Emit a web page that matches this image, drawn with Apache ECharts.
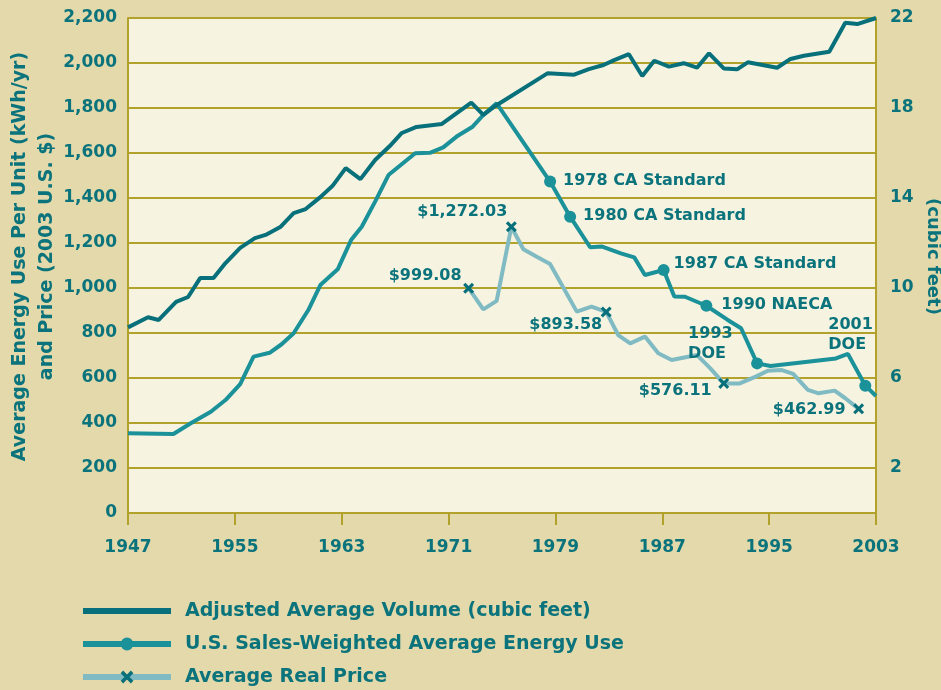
<!DOCTYPE html>
<html lang="en">
<head>
<meta charset="UTF-8">
<title>Refrigerator energy use, volume and price 1947-2003</title>
<script src="https://cdn.jsdelivr.net/npm/echarts@6/dist/echarts.min.js"></script>
<style>
  html, body { margin: 0; padding: 0; background: #e3d9aa; }
  #chart { width: 941px; height: 690px; }
</style>
</head>
<body>
<div id="chart"></div>
<script>
// points don't sit exactly on whole years in the source, so years are read as decimals
var volumeYears = [1947.0, 1948.5, 1949.3, 1950.6, 1951.5, 1952.4, 1953.4, 1954.3, 1955.4, 1956.5,
  1957.3, 1958.4, 1959.4, 1960.3, 1961.4, 1962.3, 1963.3, 1964.4, 1965.5, 1966.6,
  1967.5, 1968.6, 1970.5, 1972.7, 1973.6, 1974.5, 1978.4, 1980.4, 1981.5, 1982.6,
  1983.4, 1984.5, 1985.5, 1986.4, 1987.5, 1988.6, 1989.6, 1990.5, 1991.6, 1992.6,
  1993.4, 1995.6, 1996.6, 1997.6, 1999.5, 2000.7, 2001.6, 2003.0];
var volumeCubicFeet = [8.25, 8.70, 8.58, 9.38, 9.60, 10.44, 10.44, 11.11, 11.78, 12.22,
  12.36, 12.71, 13.33, 13.51, 14.04, 14.53, 15.33, 14.84, 15.69, 16.31,
  16.89, 17.16, 17.29, 18.24, 17.69, 18.09, 19.54, 19.48, 19.73, 19.91,
  20.13, 20.39, 19.42, 20.10, 19.84, 19.99, 19.79, 20.43, 19.76, 19.72,
  20.03, 19.79, 20.18, 20.32, 20.50, 21.79, 21.73, 22.0];

var energyYears = [1947.0, 1950.4, 1951.7, 1953.2, 1954.3, 1955.4, 1956.4, 1957.6, 1958.5, 1959.4,
  1960.5, 1961.4, 1962.7, 1963.7, 1964.5, 1965.5, 1966.5, 1968.5, 1969.6, 1970.6,
  1971.6, 1972.8, 1973.6, 1974.6, 1978.6, 1980.1, 1981.6, 1982.5, 1983.9, 1984.9,
  1985.7, 1987.1, 1987.9, 1988.7, 1990.3, 1991.9, 1992.9, 1994.1, 1995.1, 2000.0,
  2000.9, 2002.2, 2003.0];
var energyKwh = [354, 351, 399, 450, 502, 573, 695, 712, 750, 799,
  902, 1013, 1083, 1213, 1272, 1384, 1502, 1599, 1601, 1625,
  1673, 1717, 1769, 1821, 1473, 1317, 1181, 1184, 1154, 1136,
  1058, 1080, 962, 961, 921, 858, 821, 665, 653, 687,
  707, 566, 520];
var energyMarkIdx = [24, 25, 31, 34, 37, 41];
var energyMarkText = ['1978 CA Standard', '1980 CA Standard', '1987 CA Standard', '1990 NAECA', '1993\nDOE', '2001\nDOE'];

var priceYears = [1972.5, 1973.6, 1974.6, 1975.7, 1976.6, 1977.6, 1978.6, 1980.6, 1981.7, 1982.8,
  1983.7, 1984.6, 1985.7, 1986.7, 1987.7, 1989.6, 1990.6, 1991.6, 1992.8, 1994.0,
  1994.9, 1995.9, 1996.8, 1997.9, 1998.7, 1999.9, 2000.7, 2001.7];
var priceDollars = [999.08, 905, 943, 1272.03, 1172, 1139, 1107, 895, 917, 893.58,
  791, 754, 784, 710, 680, 702, 643, 576.11, 576, 606,
  632, 636, 618, 547, 532, 544, 510, 462.99];
var priceMarkIdx = [0, 3, 9, 17, 27];

var seriesNames = ['Adjusted Average Volume (cubic feet)', 'U.S. Sales-Weighted Average Energy Use', 'Average Real Price'];
var firstYear = 1947, lastYear = 2003;

// where the annotation text sits relative to its marker
var energyLabelPlace = [[13, -1], [13, -1], [10, -6], [15, -1], [-69, -20], [-37, -51]];
var priceLabelPlace = [[-7, -12], [-4, -15], [-4, 13], [-12, 7], [-13, 1]];

var FONT = 'DejaVu Sans';
var TEXT = '#0b737b';
var OLIVE = '#b2a22c';
var DARK = '#08707a';
var MID = '#1b9199';
var LIGHT = '#80bbc3';
var CROSS = 'path://M2,0L5,3L8,0L10,2L7,5L10,8L8,10L5,7L2,10L0,8L3,5L0,2Z';

function money(v) {
  return '$' + v.toLocaleString('en-US', { minimumFractionDigits: 2, maximumFractionDigits: 2 });
}

var volumeData = volumeYears.map(function (y, i) { return [y - firstYear, volumeCubicFeet[i]]; });

var energyData = energyYears.map(function (y, i) {
  var k = energyMarkIdx.indexOf(i);
  if (k < 0) return { value: [y - firstYear, energyKwh[i]], symbol: 'none' };
  return {
    value: [y - firstYear, energyKwh[i]],
    label: { show: true, formatter: energyMarkText[k], align: 'left', offset: energyLabelPlace[k] }
  };
});

var priceData = priceYears.map(function (y, i) {
  var k = priceMarkIdx.indexOf(i);
  if (k < 0) return { value: [y - firstYear, priceDollars[i]], symbol: 'none' };
  return {
    value: [y - firstYear, priceDollars[i]],
    label: { show: true, formatter: money(priceDollars[i]), align: 'right', offset: priceLabelPlace[k] }
  };
});

var labelStyle = {
  show: false, position: 'inside', verticalAlign: 'middle',
  fontFamily: FONT, fontWeight: 'bold', fontSize: 16, lineHeight: 20, color: TEXT
};

var myChart = echarts.init(document.getElementById('chart'));
var option = {
  backgroundColor: '#e3d9aa',
  animation: false,
  grid: {
    left: 128, right: 65, top: 18, bottom: 177,
    outerBoundsMode: 'none',
    show: true, backgroundColor: '#f6f3e1', borderWidth: 0
  },
  xAxis: {
    type: 'value', min: 0, max: lastYear - firstYear, interval: 8,
    axisLine: { show: true, lineStyle: { color: OLIVE, width: 2 } },
    axisTick: { show: true, length: 12, lineStyle: { color: OLIVE, width: 2 } },
    splitLine: { show: false },
    axisLabel: {
      margin: 26, color: TEXT, fontFamily: FONT, fontWeight: 'bold', fontSize: 17,
      formatter: function (v) { return String(v + firstYear); }
    }
  },
  yAxis: [{
    type: 'value', min: 0, max: 2200, interval: 200,
    name: 'Average Energy Use Per Unit (kWh/yr)\nand Price (2003 U.S. $)',
    nameLocation: 'middle', nameRotate: 90, nameGap: 67, nameMoveOverlap: false,
    nameTextStyle: { color: TEXT, fontFamily: FONT, fontWeight: 'bold', fontSize: 19, lineHeight: 27, padding: [0, 0, 0, 18] },
    axisLine: { show: true, lineStyle: { color: OLIVE, width: 2 } },
    axisTick: { show: false },
    splitLine: { show: true, lineStyle: { color: OLIVE, width: 2 } },
    axisLabel: {
      margin: 11, color: TEXT, fontFamily: FONT, fontWeight: 'bold', fontSize: 17,
      formatter: function (v) { return v.toLocaleString('en-US'); }
    }
  }, {
    type: 'value', min: 0, max: 22, interval: 2,
    name: '(cubic feet)',
    nameLocation: 'middle', nameRotate: -90, nameGap: 48, nameMoveOverlap: false,
    nameTextStyle: { color: TEXT, fontFamily: FONT, fontWeight: 'bold', fontSize: 18, padding: [0, 18, 0, 0] },
    axisLine: { show: true, lineStyle: { color: OLIVE, width: 2 } },
    axisTick: { show: false },
    splitLine: { show: false },
    axisLabel: {
      margin: 14, color: TEXT, fontFamily: FONT, fontWeight: 'bold', fontSize: 17,
      formatter: function (v) { return v % 4 === 2 ? String(v) : ''; }
    }
  }],
  legend: {
    orient: 'vertical', left: 80, top: 601, padding: 0,
    itemWidth: 88, itemHeight: 16, itemGap: 13,
    lineStyle: { width: 6 },
    textStyle: { color: TEXT, fontFamily: FONT, fontWeight: 'bold', fontSize: 19, lineHeight: 20, padding: [0, 0, 0, 9] },
    data: [
      { name: seriesNames[0], itemStyle: { opacity: 0 } },
      { name: seriesNames[1] },
      { name: seriesNames[2] }
    ]
  },
  series: [{
    name: seriesNames[1], type: 'line', yAxisIndex: 0,
    data: energyData,
    symbol: 'circle', symbolSize: 12,
    lineStyle: { color: MID, width: 4 },
    itemStyle: { color: MID },
    label: labelStyle,
    z: 3
  }, {
    name: seriesNames[2], type: 'line', yAxisIndex: 0,
    data: priceData,
    symbol: CROSS, symbolSize: 11,
    lineStyle: { color: LIGHT, width: 4 },
    itemStyle: { color: DARK },
    label: labelStyle,
    z: 2
  }, {
    name: seriesNames[0], type: 'line', yAxisIndex: 1,
    data: volumeData,
    symbol: 'none',
    lineStyle: { color: DARK, width: 4 },
    itemStyle: { color: DARK },
    z: 4
  }]
};
myChart.setOption(option);
</script>
</body>
</html>
